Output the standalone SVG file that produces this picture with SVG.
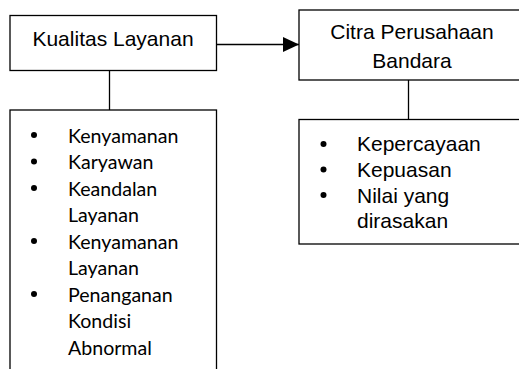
<svg xmlns="http://www.w3.org/2000/svg" width="519" height="369" viewBox="0 0 519 369">
<style>
.box{fill:#fff;stroke:#000;stroke-width:1.3}
.ln{fill:none;stroke:#000;stroke-width:1.3}
.a{font-family:"Liberation Sans",Arial,sans-serif;font-size:21px;fill:#000}
.c{font-family:Lato,"Open Sans",sans-serif;font-size:19.6px;fill:#000}
.mid{text-anchor:middle}
</style>
<defs>
<marker id="ah" markerWidth="16" markerHeight="15" refX="16" refY="7.5" orient="auto" markerUnits="userSpaceOnUse">
<path d="M0,0 L16,7.5 L0,15 Z" fill="#000"/>
</marker>
</defs>
<g id="connectors">
<line class="ln" x1="216" y1="44.5" x2="299" y2="44.5" marker-end="url(#ah)"/>
<line class="ln" x1="109.5" y1="70.5" x2="109.5" y2="110"/>
<line class="ln" x1="408.5" y1="80" x2="408.5" y2="119"/>
</g>
<g id="kualitas">
<rect class="box" x="10" y="15.5" width="206.5" height="55"/>
<text class="a mid" x="113" y="46">Kualitas Layanan</text>
</g>
<g id="citra">
<rect class="box" x="299" y="10" width="230" height="70"/>
<text class="a mid" x="412" y="39">Citra Perusahaan</text>
<text class="a mid" x="412" y="68">Bandara</text>
</g>
<g id="list-layanan">
<rect class="box" x="10" y="110" width="206.5" height="280"/>
<g fill="#000">
<circle cx="34" cy="135" r="3"/>
<circle cx="34" cy="161.5" r="3"/>
<circle cx="34" cy="188" r="3"/>
<circle cx="34" cy="241" r="3"/>
<circle cx="34" cy="294" r="3"/>
</g>
<text class="c" x="68" y="142.5">Kenyamanan</text>
<text class="c" x="68" y="169">Karyawan</text>
<text class="c" x="68" y="195.5">Keandalan</text>
<text class="c" x="68" y="222">Layanan</text>
<text class="c" x="68" y="248.5">Kenyamanan</text>
<text class="c" x="68" y="275">Layanan</text>
<text class="c" x="68" y="301.5">Penanganan</text>
<text class="c" x="68" y="328">Kondisi</text>
<text class="c" x="68" y="354.5">Abnormal</text>
</g>
<g id="list-citra">
<rect class="box" x="299" y="119.5" width="230" height="124.5"/>
<g fill="#000">
<circle cx="323.5" cy="144" r="3"/>
<circle cx="323.5" cy="169.5" r="3"/>
<circle cx="323.5" cy="195" r="3"/>
</g>
<text class="a" x="357" y="151">Kepercayaan</text>
<text class="a" x="357" y="177">Kepuasan</text>
<text class="a" x="357" y="202.5">Nilai yang</text>
<text class="a" x="357" y="228">dirasakan</text>
</g>
</svg>
